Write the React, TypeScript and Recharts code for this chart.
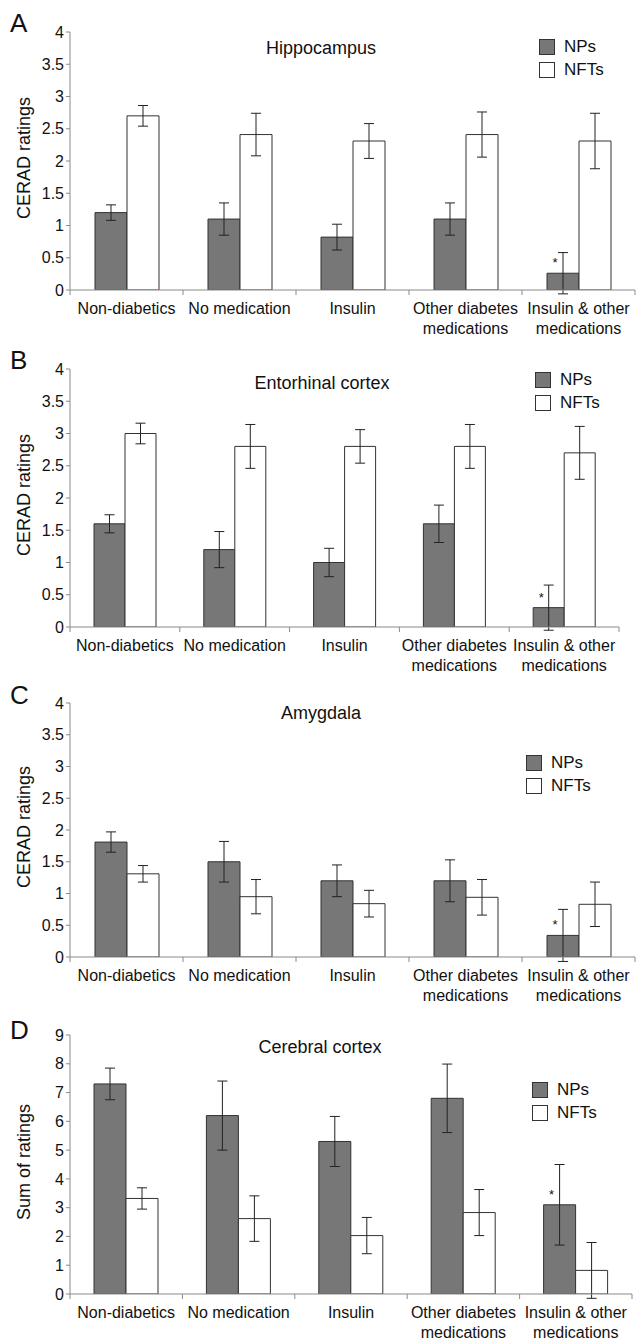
import React from 'react';
import { BarChart, Bar, XAxis, YAxis, ErrorBar, Legend, LabelList } from 'recharts';

const categories = ['Non-diabetics', 'No medication', 'Insulin', 'Other diabetes medications', 'Insulin & other medications'];
const categoryLines = [['Non-diabetics'], ['No medication'], ['Insulin'], ['Other diabetes', 'medications'], ['Insulin & other', 'medications']];
const markers = ['', '', '', '', '*'];

const hippoNPs = [1.2, 1.1, 0.82, 1.1, 0.26];
const hippoNPsErr = [0.12, 0.25, 0.2, 0.25, 0.32];
const hippoNFTs = [2.7, 2.41, 2.31, 2.41, 2.31];
const hippoNFTsErr = [0.16, 0.33, 0.27, 0.35, 0.43];

const entoNPs = [1.6, 1.2, 1.0, 1.6, 0.3];
const entoNPsErr = [0.14, 0.28, 0.22, 0.29, 0.35];
const entoNFTs = [3.0, 2.8, 2.8, 2.8, 2.7];
const entoNFTsErr = [0.16, 0.34, 0.26, 0.34, 0.41];

const amygNPs = [1.81, 1.5, 1.2, 1.2, 0.34];
const amygNPsErr = [0.16, 0.32, 0.25, 0.33, 0.41];
const amygNFTs = [1.31, 0.95, 0.84, 0.94, 0.83];
const amygNFTsErr = [0.13, 0.27, 0.21, 0.28, 0.35];

const cortNPs = [7.3, 6.2, 5.3, 6.8, 3.1];
const cortNPsErr = [0.55, 1.2, 0.87, 1.19, 1.4];
const cortNFTs = [3.32, 2.62, 2.03, 2.83, 0.82];
const cortNFTsErr = [0.37, 0.79, 0.63, 0.8, 0.97];

const ceradTicks = [0, 0.5, 1, 1.5, 2, 2.5, 3, 3.5, 4];
const sumTicks = [0, 1, 2, 3, 4, 5, 6, 7, 8, 9];

const FONT = '"Liberation Sans", Arial, sans-serif';
const TEXT = '#111';
const AXIS = '#8a8a8a';
const NP_FILL = '#777777';
const EDGE = '#333';

const makeRows = (nps: number[], npErr: number[], nfts: number[], nftErr: number[]) =>
  categories.map((c, i) => ({ category: c, NPs: nps[i], NFTs: nfts[i], npErr: npErr[i], nftErr: nftErr[i], mark: markers[i] }));

const panels = [
  { letter: 'A', title: 'Hippocampus', yLabel: 'CERAD ratings', rows: makeRows(hippoNPs, hippoNPsErr, hippoNFTs, hippoNFTsErr), ticks: ceradTicks, max: 4,
    top: 0, height: 350, plotTop: 32, plotBottom: 290, plotRight: 635, titleX: 321, titleY: 48, legendX: 539, legendY: 47, letterY: 33, barSize: 32 },
  { letter: 'B', title: 'Entorhinal cortex', yLabel: 'CERAD ratings', rows: makeRows(entoNPs, entoNPsErr, entoNFTs, entoNFTsErr), ticks: ceradTicks, max: 4,
    top: 335, height: 350, plotTop: 369, plotBottom: 627, plotRight: 619, titleX: 322, titleY: 383, legendX: 535, legendY: 380, letterY: 370, barSize: 31 },
  { letter: 'C', title: 'Amygdala', yLabel: 'CERAD ratings', rows: makeRows(amygNPs, amygNPsErr, amygNFTs, amygNFTsErr), ticks: ceradTicks, max: 4,
    top: 670, height: 350, plotTop: 703, plotBottom: 957, plotRight: 635, titleX: 321, titleY: 713, legendX: 526, legendY: 763, letterY: 705, barSize: 32 },
  { letter: 'D', title: 'Cerebral cortex', yLabel: 'Sum of ratings', rows: makeRows(cortNPs, cortNPsErr, cortNFTs, cortNFTsErr), ticks: sumTicks, max: 9,
    top: 1005, height: 336, plotTop: 1035, plotBottom: 1294, plotRight: 632, titleX: 320, titleY: 1047, legendX: 532, legendY: 1090, letterY: 1040, barSize: 32 },
];

const CategoryTick = (props: any) => {
  const { x, y, payload } = props;
  const idx = payload.index ?? props.index ?? 0;
  const half = payload.offset ?? 56;
  const lines = categoryLines[idx] || [String(payload.value)];
  return (
    <g>
      <line x1={x - half} y1={y} x2={x - half} y2={y + 5} stroke={AXIS} />
      {idx === categories.length - 1 && <line x1={x + half} y1={y} x2={x + half} y2={y + 5} stroke={AXIS} />}
      {lines.map((t, k) => (
        <text key={k} x={x} y={y + 24 + k * 20} textAnchor="middle" fontSize={16} fontFamily={FONT} fill={TEXT}>
          {t}
        </text>
      ))}
    </g>
  );
};

const Marker = (props: any) => {
  const { x, y, value } = props;
  if (!value) return null;
  return (
    <text x={x + 8} y={y - 6} fontSize={13} fontFamily={FONT} fill={TEXT} textAnchor="middle">
      {value}
    </text>
  );
};

const LegendBox = ({ top, left }: { top: number; left: number }) => (
  <div style={{ position: 'absolute', top, left, fontFamily: FONT, fontSize: 17, color: TEXT }}>
    {[{ name: 'NPs', fill: NP_FILL }, { name: 'NFTs', fill: '#fff' }].map((it) => (
      <div key={it.name} style={{ display: 'flex', alignItems: 'center', height: 23 }}>
        <span style={{ width: 14, height: 14, background: it.fill, border: `1px solid ${EDGE}`, marginRight: 9 }} />
        <span>{it.name}</span>
      </div>
    ))}
  </div>
);

const Panel = ({ p }: { p: (typeof panels)[number] }) => {
  const margin = {
    top: p.plotTop - p.top,
    bottom: p.height - (p.plotBottom - p.top) - 40,
    left: 0,
    right: 636 - p.plotRight,
  };
  const mid = (p.plotTop + p.plotBottom) / 2 - p.top - 3;
  return (
    <div style={{ position: 'absolute', left: 0, top: p.top, width: 636, height: p.height }}>
      <div style={{ position: 'absolute', left: 10, top: p.letterY - p.top - 24, fontFamily: FONT, fontSize: 26, lineHeight: '28px', color: TEXT }}>
        {p.letter}
      </div>
      <div
        style={{ position: 'absolute', left: p.titleX, top: p.titleY - p.top, transform: 'translate(-50%, -50%)', fontFamily: FONT, fontSize: 18, lineHeight: '20px', color: TEXT, whiteSpace: 'nowrap' }}
      >
        {p.title}
      </div>
      <div
        style={{ position: 'absolute', left: 24, top: mid, transform: 'translate(-50%, -50%) rotate(-90deg)', fontFamily: FONT, fontSize: 18, lineHeight: '20px', color: TEXT, whiteSpace: 'nowrap' }}
      >
        {p.yLabel}
      </div>
      <BarChart width={636} height={p.height} data={p.rows} margin={margin} barGap={0} barSize={p.barSize} style={{ overflow: 'visible' }}>
        <XAxis dataKey="category" interval={0} axisLine={{ stroke: AXIS }} tickLine={false} tickSize={0} tickMargin={0} height={40} tick={<CategoryTick />} />
        <YAxis
          domain={[0, p.max]}
          ticks={p.ticks}
          allowDataOverflow
          width={70}
          axisLine={{ stroke: AXIS }}
          tickLine={{ stroke: AXIS }}
          tickSize={4}
          tickMargin={2}
          tick={{ fill: TEXT, fontSize: 16, fontFamily: FONT }}
        />
        <Legend layout="vertical" align="center" verticalAlign="middle" content={() => null} />
        <Bar dataKey="NPs" fill={NP_FILL} stroke={EDGE} strokeWidth={1} isAnimationActive={false}>
          <ErrorBar dataKey="npErr" width={5} stroke="#222" strokeWidth={1} />
          <LabelList dataKey="mark" content={<Marker />} />
        </Bar>
        <Bar dataKey="NFTs" fill="#ffffff" stroke={EDGE} strokeWidth={1} isAnimationActive={false}>
          <ErrorBar dataKey="nftErr" width={5} stroke="#222" strokeWidth={1} />
        </Bar>
      </BarChart>
      <LegendBox top={p.legendY - p.top - 11.5} left={p.legendX} />
    </div>
  );
};

export default function App() {
  return (
    <div style={{ position: 'absolute', left: 0, top: 0, width: 636, height: 1341, background: '#fff', overflow: 'hidden' }}>
      {panels.map((p) => (
        <Panel key={p.letter} p={p} />
      ))}
    </div>
  );
}
